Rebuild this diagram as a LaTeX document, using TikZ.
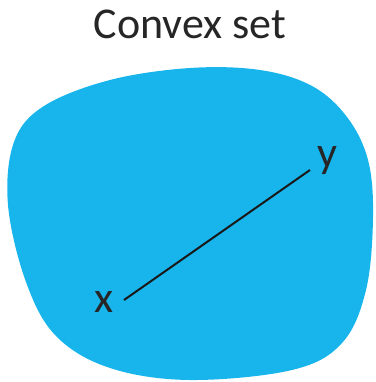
\documentclass[tikz,border=0pt]{standalone}
\usepackage{fontspec}
\setmainfont{Carlito}
\definecolor{setblue}{RGB}{24,181,236}
\begin{document}
\begin{tikzpicture}[x=1pt,y=-1pt,
  lbl/.style={font=\fontsize{44}{48}\selectfont, inner sep=0pt, text=black!85}]
\useasboundingbox (0,0) rectangle (375,382);
\fill[setblue] plot[smooth cycle, tension=0.6] coordinates {
 (190,68) (260,70) (312,86) (347,117) (368,160) (373,217) (366,290)
 (342,343) (292,370) (190,380) (110,368) (56,336) (26,282) (8,205)
 (14,142) (44,106) (110,80)};
\node[lbl] (title) at (190,24) {Convex set};
\node[lbl, anchor=base] (xl) at (104,312) {x};
\node[lbl, anchor=base] (yl) at (327,167) {y};
\coordinate (xp) at (124,300);
\coordinate (yp) at (310,170);
\draw[line width=2pt, black!90] (xp) -- (yp);
\end{tikzpicture}
\end{document}
